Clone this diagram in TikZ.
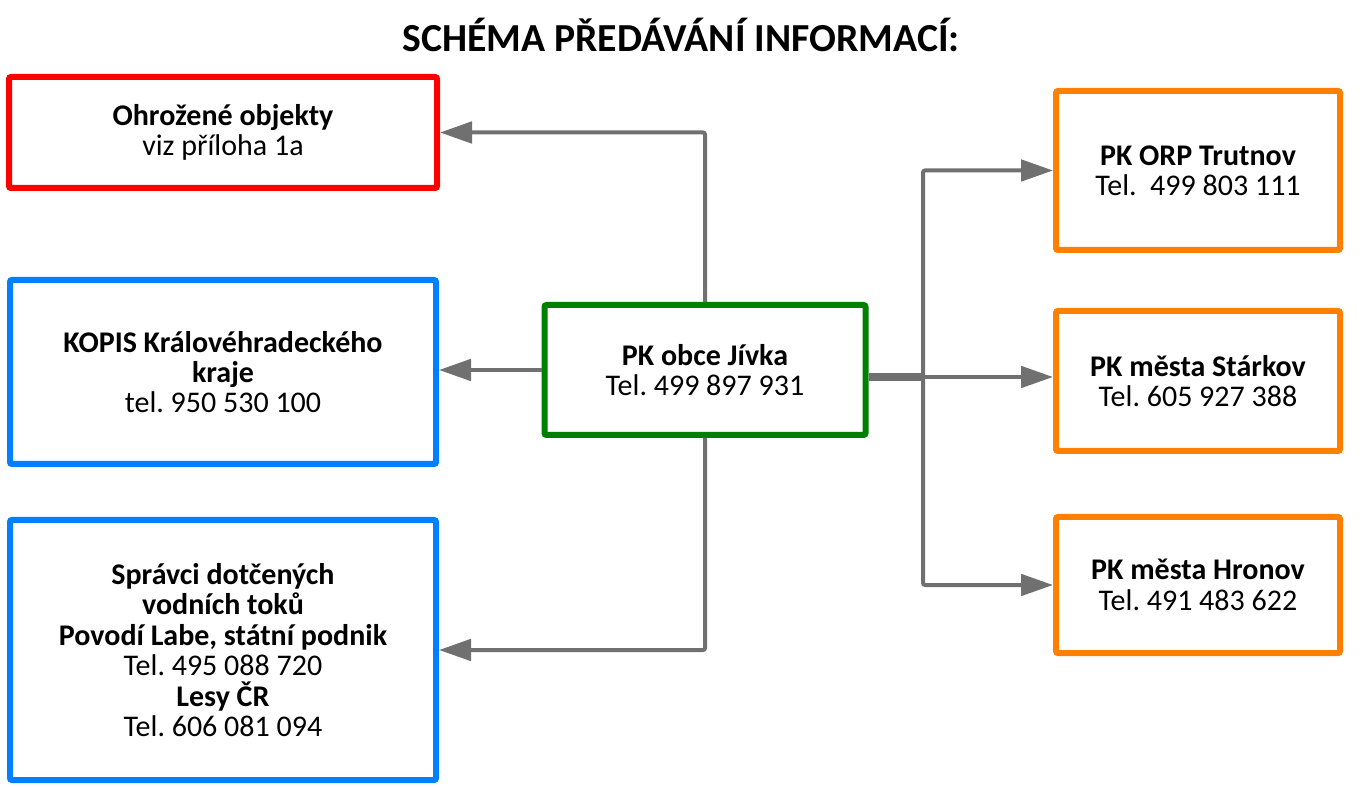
\documentclass[tikz,border=0pt]{standalone}
\usepackage{fontspec}
\setmainfont{Carlito}
\usetikzlibrary{arrows.meta}
\frenchspacing

\definecolor{ramecCerveny}{HTML}{FF0000}
\definecolor{ramecModry}{HTML}{0080FF}
\definecolor{ramecZeleny}{HTML}{008000}
\definecolor{ramecOranzovy}{HTML}{FF8000}
\definecolor{spojka}{HTML}{707070}

\begin{document}
\begin{tikzpicture}[x=0.75pt,y=-0.75pt,
		box/.style={draw, line width=4.5pt, rounded corners=1.5pt, fill=white, align=center,
			inner sep=0pt, font=\fontsize{22.5}{22.8}\selectfont},
		link/.style={draw=spojka, line width=3pt, rounded corners=1.5pt,
			-{Triangle[length=24pt,width=16pt]}}]
		% Hranice obrazku
		\useasboundingbox (0,0) rectangle (1360,787);
		
		% Nadpis
		\node[font=\fontsize{29.8}{32}\selectfont\bfseries] (nadpis) at (681,35) {SCHÉMA PŘEDÁVÁNÍ INFORMACÍ:};
		
		% Stredni box
		\node[box, draw=ramecZeleny, minimum width=321*0.75pt, minimum height=130*0.75pt] (jivka) at (705,370)
			{\textbf{PK obce Jívka}\\Tel. 499 897 931};
		
		% Levy sloupec
		\node[box, draw=ramecCerveny, minimum width=428*0.75pt, minimum height=111*0.75pt] (ohrozene) at (223,132.5)
			{\textbf{Ohrožené objekty}\\viz příloha 1a};
		\node[box, draw=ramecModry, minimum width=426*0.75pt, minimum height=184*0.75pt] (kopis) at (223,372)
			{\textbf{KOPIS Královéhradeckého}\\\textbf{kraje}\\tel. 950 530 100};
		\node[box, draw=ramecModry, minimum width=426*0.75pt, minimum height=260*0.75pt] (spravci) at (223,650)
			{\textbf{Správci dotčených}\\\textbf{vodních toků}\\\textbf{Povodí Labe, státní podnik}\\Tel. 495 088 720\\\textbf{Lesy ČR}\\Tel. 606 081 094};
		
		% Pravy sloupec
		\node[box, draw=ramecOranzovy, minimum width=284*0.75pt, minimum height=159*0.75pt] (trutnov) at (1198,170.5)
			{\textbf{PK ORP Trutnov}\\Tel.~ 499 803 111};
		\node[box, draw=ramecOranzovy, minimum width=284*0.75pt, minimum height=140*0.75pt] (starkov) at (1198,381)
			{\textbf{PK města Stárkov}\\Tel. 605 927 388};
		\node[box, draw=ramecOranzovy, minimum width=284*0.75pt, minimum height=136*0.75pt] (hronov) at (1198,585)
			{\textbf{PK města Hronov}\\Tel. 491 483 622};
		
		% Spojky doleva
		\draw[link] (jivka.north) |- (ohrozene.east);
		\draw[link] (jivka.west) -- (jivka.west -| kopis.east);
		\draw[link] (jivka.south) |- (spravci.east);
		
		% Rozbocovac doprava
		\coordinate (uzel) at (923,377);
		\draw[draw=spojka, line width=6pt] (jivka.east |- uzel) -- (uzel);
		\draw[link, {Triangle[length=24pt,width=16pt]}-{Triangle[length=24pt,width=16pt]}]
			(trutnov.west) -| (uzel) |- (hronov.west);
		\draw[link] (uzel) -- (uzel -| starkov.west);
	\end{tikzpicture}
\end{document}
